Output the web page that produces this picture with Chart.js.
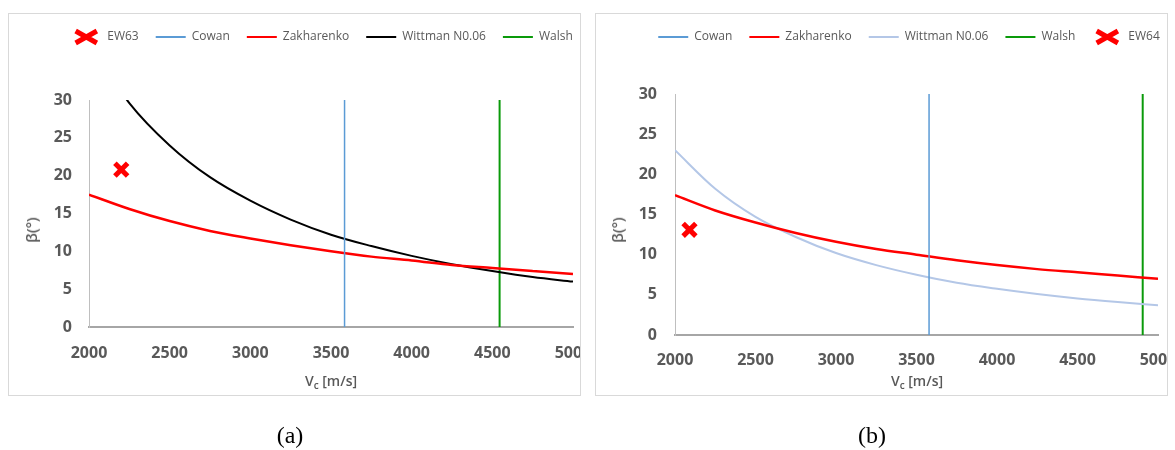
<!DOCTYPE html>
<html>
<head>
<meta charset="utf-8">
<script src="https://cdn.jsdelivr.net/npm/chart.js@4.4.1/dist/chart.umd.min.js"></script>
<style>
  body { margin: 0; background: #fff; width: 1175px; height: 450px; position: relative; overflow: hidden; }
  .box { position: absolute; border: 1px solid #d9d9d9; overflow: hidden; }
  .box canvas { display: block; }
  .ytitle { position: absolute; transform: translate(-50%, -50%) rotate(-90deg); font: 600 15px "Open Sans"; color: #595959; white-space: nowrap; }
  .xtitle { position: absolute; transform: translate(-50%, -50%); font: 600 14px "Open Sans"; color: #595959; white-space: nowrap; }
  .xtitle sub { font-size: 10px; vertical-align: -3px; }
  .cap { position: absolute; transform: translate(-50%, -50%); font: 24px "Liberation Serif"; color: #000; }
</style>
</head>
<body>
<div class="box" style="left:8px; top:13px; width:571px; height:381px;"><canvas id="chartA" width="626" height="381"></canvas></div>
<div class="box" style="left:595px; top:13px; width:571px; height:381px;"><canvas id="chartB" width="626" height="381"></canvas></div>
<div class="ytitle" style="left:31px; top:230px;">β(°)</div>
<div class="ytitle" style="left:617px; top:230px;">β(°)</div>
<div class="xtitle" style="left:331px; top:381px;">V<sub>c</sub> [m/s]</div>
<div class="xtitle" style="left:917px; top:381px;">V<sub>c</sub> [m/s]</div>
<div class="cap" style="left:290px; top:435px;">(a)</div>
<div class="cap" style="left:872px; top:435px;">(b)</div>
<script>
// impact velocity V_c [m/s]
var vc = [2000, 2250, 2500, 2750, 3000, 3250, 3500, 3750, 4000, 4250, 4500, 4750, 5000];

// (a) beta [deg]
var zakharenkoA = [17.5, 15.6, 14.0, 12.7, 11.7, 10.8, 10.0, 9.3, 8.8, 8.2, 7.8, 7.4, 7.0];
var wittmanA = [37.5, 29.6, 24.0, 19.8, 16.7, 14.2, 12.2, 10.7, 9.4, 8.3, 7.4, 6.6, 6.0];
var cowanA = 3584;
var walshA = 4545;
var ew63 = [2200, 20.8];

// (b) beta [deg]
var zakharenkoB = [17.4, 15.5, 14.0, 12.7, 11.6, 10.7, 10.0, 9.3, 8.7, 8.2, 7.8, 7.4, 7.0];
var wittmanB = [23.0, 18.2, 14.7, 12.2, 10.2, 8.7, 7.5, 6.5, 5.75, 5.1, 4.55, 4.1, 3.7];
var cowanB = 3578;
var walshB = 4905;
var ew64 = [2090, 13.1];

var yRange = [0, 30];

function pts(ys) {
    return vc.map(function (v, i) { return { x: v, y: ys[i] }; });
}
function vline(x) {
    return [{ x: x, y: yRange[0] }, { x: x, y: yRange[1] }];
}
function curve(label, data, color, width) {
    return {
        label: label, data: data, borderColor: color, borderWidth: width,
        pointRadius: 0, pointStyle: 'line', pointBorderColor: color, pointBorderWidth: 2,
        cubicInterpolationMode: 'monotone', fill: false
    };
}
function marker(label, p) {
    return {
        label: label, data: [{ x: p[0], y: p[1] }], showLine: false,
        borderColor: '#ff0000', backgroundColor: '#ff0000',
        pointStyle: 'crossRot', pointRadius: 9, pointBorderWidth: 5, pointBorderColor: '#ff0000'
    };
}

// the canvas is wider than its box; the box cuts off the right part (and the last tick label)
function makeChart(id, datasets, o) {
    var ctx = document.getElementById(id).getContext('2d');
    return new Chart(ctx, {
        type: 'line',
        data: { datasets: datasets },
        options: {
            responsive: false,
            animation: false,
            events: [],
            layout: { padding: 0 },
            plugins: {
                tooltip: { enabled: false },
                legend: {
                    position: 'top',
                    labels: {
                        usePointStyle: true,
                        pointStyleWidth: 30,
                        padding: 17,
                        color: '#595959',
                        font: { family: 'Open Sans', size: 12 }
                    }
                },
                // empty spacer between legend and plot area
                title: {
                    display: true, text: ' ', weight: 500,
                    font: { size: 10 }, padding: { top: 0, bottom: o.gap }
                }
            },
            scales: {
                x: {
                    type: 'linear', min: 2000, max: 5000,
                    grid: { display: false, drawTicks: false },
                    border: { display: true, color: '#a6a6a6', width: 2 },
                    ticks: {
                        stepSize: 500, padding: o.xPad, color: '#595959',
                        font: { family: 'Open Sans', size: 16, weight: 'bold' },
                        maxRotation: 0,
                        callback: function (v) { return String(v); }
                    },
                    afterFit: function (s) { s.height = o.xHeight; s.paddingLeft = 0; s.paddingRight = o.padRight; }
                },
                y: {
                    min: yRange[0], max: yRange[1],
                    grid: { display: false, drawTicks: false },
                    border: { display: true, color: '#bfbfbf', width: 1 },
                    ticks: {
                        stepSize: 5, padding: o.yPad, color: '#595959',
                        font: { family: 'Open Sans', size: 16, weight: 'bold' }
                    },
                    afterFit: function (s) { s.width = o.yWidth; s.paddingTop = 0; s.paddingBottom = 0; }
                }
            }
        }
    });
}

makeChart('chartA', [
    marker('EW63', ew63),
    curve('Cowan', vline(cowanA), '#5b9bd5', 1.5),
    curve('Zakharenko', pts(zakharenkoA), '#ff0000', 2.5),
    curve('Wittman N0.06', pts(wittmanA), '#000000', 2),
    curve('Walsh', vline(walshA), '#0a9a0a', 2)
], { padRight: 62, gap: 35, xPad: 17, xHeight: 68, yPad: 17, yWidth: 80 });

makeChart('chartB', [
    curve('Cowan', vline(cowanB), '#5b9bd5', 1.5),
    curve('Zakharenko', pts(zakharenkoB), '#ff0000', 2.5),
    curve('Wittman N0.06', pts(wittmanB), '#b4c7e7', 2),
    curve('Walsh', vline(walshB), '#0a9a0a', 2),
    marker('EW64', ew64)
], { padRight: 64, gap: 29, xPad: 16, xHeight: 60, yPad: 18, yWidth: 79 });
</script>
</body>
</html>
